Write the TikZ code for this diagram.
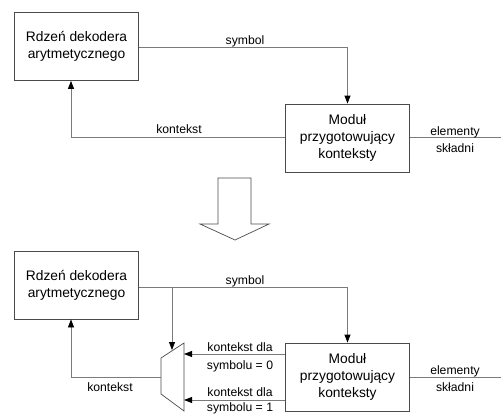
\documentclass[tikz,border=0pt]{standalone}
\usepackage{fontspec}
\setmainfont{Liberation Sans}
\usetikzlibrary{arrows.meta}
\definecolor{linegray}{HTML}{7A7A7A}
\definecolor{boxgray}{HTML}{4A4A4A}
\begin{document}
\begin{tikzpicture}[x=1pt,y=-1pt,
  blk/.style={draw=boxgray,line width=0.8pt,minimum width=124pt,minimum height=68pt,align=center,font=\fontsize{13.8}{17}\selectfont,inner sep=0pt},
  lbl/.style={font=\fontsize{12.2}{14}\selectfont,inner sep=0pt},
  conn/.style={draw=linegray,line width=0.8pt},
  arr/.style={conn,-{Triangle[length=8pt,width=6pt,color=black]}}]
\useasboundingbox (0,0) rectangle (501,413);
% ---------- top diagram ----------
\node[blk] (core1) at (76.5,46.5) {Rdzeń dekodera\\arytmetycznego};
\node[blk] (mod1) at (347.5,138) {Moduł\\przygotowujący\\konteksty};
\coordinate (end1) at (501,137);
\draw[arr] (core1.east |- 0,47) -| (mod1.north);
\draw[arr] (mod1.west |- 0,137) -| (core1.south -| 71,0);
\draw[conn] (mod1.east |- 0,137) -- (end1);
\node[lbl] (sym1) at (245,41) {symbol};
\node[lbl] (kon1) at (179,129) {kontekst};
\node[lbl] (el1) at (455,132) {elementy};
\node[lbl] (sk1) at (455,148) {składni};
% ---------- big arrow ----------
\draw[draw=boxgray,line width=0.7pt,fill=white] (218,178) -- (251,178) -- (251,224) -- (269,224) -- (235,240) -- (200,224) -- (218,224) -- cycle;
% ---------- bottom diagram ----------
\node[blk] (core2) at (76.5,285) {Rdzeń dekodera\\arytmetycznego};
\node[blk] (mod2) at (347.5,377) {Moduł\\przygotowujący\\konteksty};
\coordinate (mtr) at (184,343);
\coordinate (mbr) at (184,411);
\coordinate (mbl) at (161,394);
\coordinate (mtl) at (161,358);
\draw[draw=boxgray,line width=0.7pt] (mtl) -- (mtr) -- (mbr) -- (mbl) -- cycle;
\coordinate (mtop) at (172,350);
\coordinate (mleft) at (161,377);
\coordinate (branch) at (172,287);
\coordinate (end2) at (501,377);
\draw[arr] (core2.east |- 0,287) -| (mod2.north);
\draw[arr] (branch) -- (mtop);
\draw[arr] (mod2.west |- 0,354) -- (184,354);
\draw[arr] (mod2.west |- 0,400) -- (184,400);
\draw[arr] (mleft) -| (core2.south -| 71,0);
\draw[conn] (mod2.east |- 0,377) -- (end2);
\node[lbl] (sym2) at (245,281) {symbol};
\node[lbl] (k0a) at (240,347) {kontekst dla};
\node[lbl] (k0b) at (240,366) {symbolu = 0};
\node[lbl] (k1a) at (240,392) {kontekst dla};
\node[lbl] (k1b) at (240,408) {symbolu = 1};
\node[lbl] (kon2) at (110,387) {kontekst};
\node[lbl] (el2) at (455,371) {elementy};
\node[lbl] (sk2) at (455,387) {składni};
\end{tikzpicture}
\end{document}
